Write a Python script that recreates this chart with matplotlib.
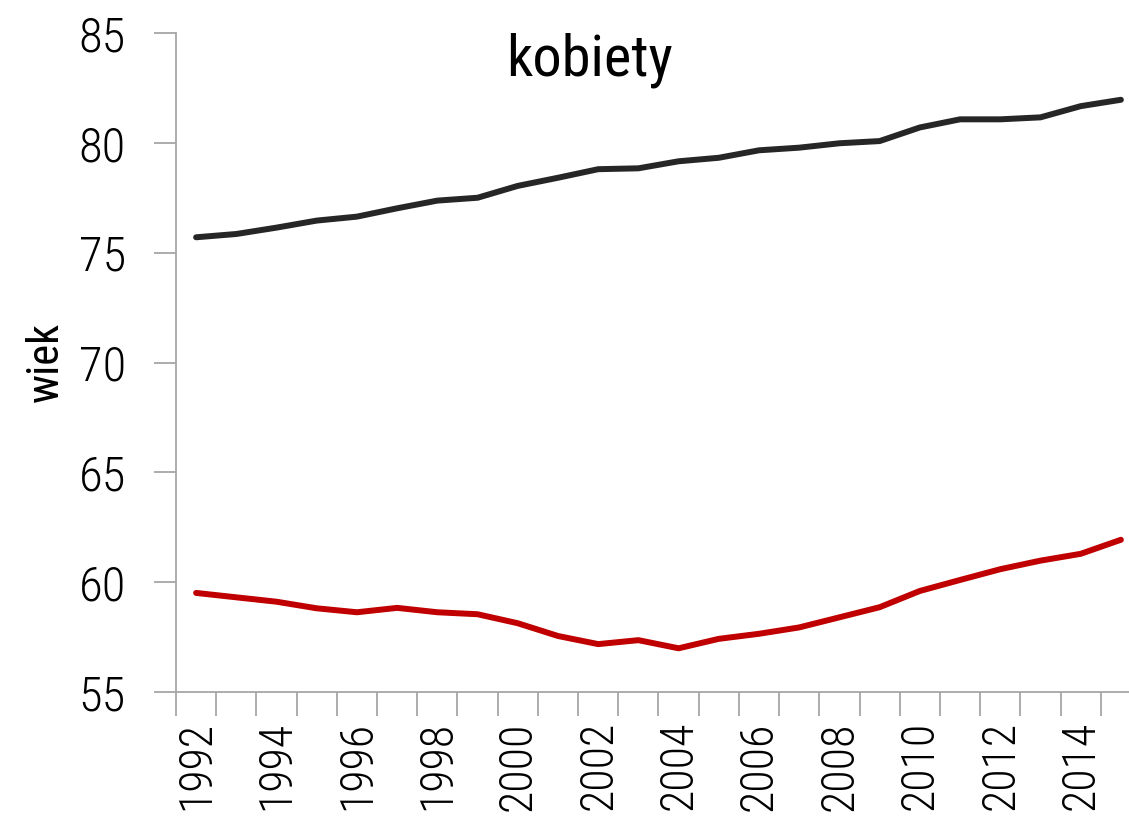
import matplotlib
matplotlib.use("Agg")
import matplotlib.pyplot as plt
from matplotlib import font_manager

### Font: pick a condensed one if it exists. ###
names = set(f.name for f in font_manager.fontManager.ttflist)
fam = [n for n in ['Roboto Condensed', 'Liberation Sans Narrow', 'Roboto'] if n in names]
plt.rcParams['font.family'] = fam + ['DejaVu Sans']

### Data. ###
years = list(range(1992, 2016))
tick_labels = [str(y) if y % 2 == 0 else '' for y in years]
top_line = [75.70, 75.85, 76.14, 76.46, 76.64, 77.02, 77.37, 77.50, 78.04, 78.41, 78.80, 78.84,
            79.16, 79.32, 79.66, 79.78, 79.98, 80.08, 80.70, 81.07, 81.07, 81.16, 81.67, 81.96]
bottom_line = [59.51, 59.31, 59.11, 58.81, 58.63, 58.83, 58.63, 58.54, 58.13, 57.55, 57.18, 57.36,
               56.99, 57.42, 57.65, 57.94, 58.40, 58.86, 59.60, 60.10, 60.59, 60.98, 61.29, 61.93]

fig = plt.figure(figsize=(11.29, 8.17), dpi=100)
ax = fig.add_axes([176/1129, 125/817, 965/1129, 659/817])

x = list(range(len(years)))
ax.plot(x, top_line, color='#262626', lw=4.3, solid_capstyle='round')
ax.plot(x, bottom_line, color='#c00000', lw=4.3, solid_capstyle='round')

ax.set_xlim(-0.5, len(years) - 0.5)
ax.set_ylim(55, 85)
ax.set_yticks(range(55, 86, 5))

ax.set_xticks(x)
ax.set_xticklabels(tick_labels, rotation=90)
ax.set_xticks([i - 0.5 for i in range(len(years) + 1)], minor=True)
ax.tick_params(axis='x', which='major', length=0, pad=21)
ax.tick_params(axis='x', which='minor', length=17, color='#a6a6a6', width=1.3)
ax.tick_params(axis='y', length=16, color='#a6a6a6', width=1.3, pad=20)
for lab in ax.get_xticklabels():
    lab.set_fontsize(33)
    lab.set_fontweight('light')
for lab in ax.get_yticklabels():
    lab.set_fontsize(35)
    lab.set_fontweight('light')

for s in ['top', 'right']:
    ax.spines[s].set_visible(False)
for s in ['left', 'bottom']:
    ax.spines[s].set_color('#a6a6a6')
    ax.spines[s].set_linewidth(1.3)

fig.text(46/1129, 1 - 362/817, 'wiek', fontsize=32, rotation=90, ha='center', va='center')
fig.text(590/1129, 1 - 60/817, 'kobiety', fontsize=42, ha='center', va='center')

plt.savefig('out.png', dpi=100)
